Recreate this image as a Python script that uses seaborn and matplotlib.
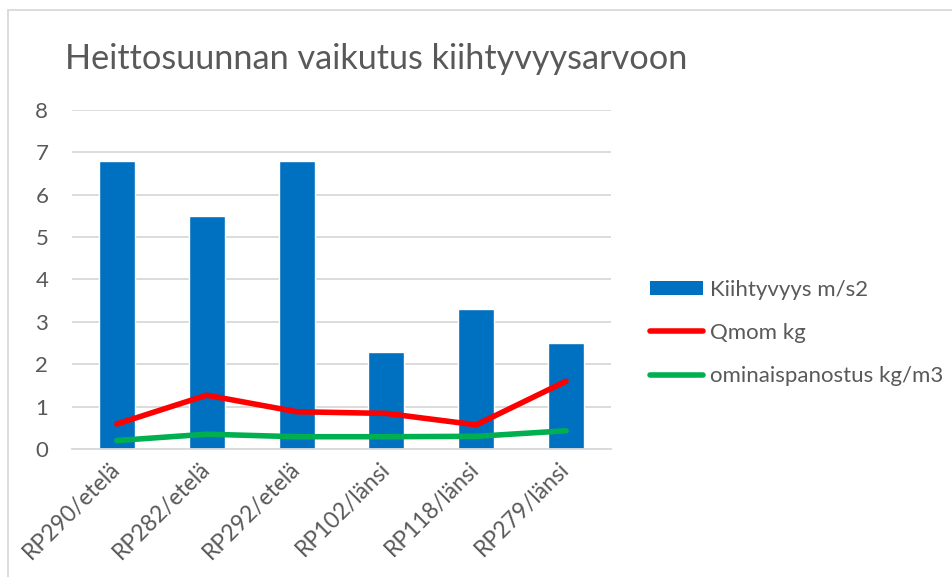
import numpy as np
import pandas as pd
import seaborn as sns
import matplotlib.pyplot as plt
from matplotlib.lines import Line2D
from matplotlib.patches import Patch

# data
paikat = ['RP290/etelä', 'RP282/etelä', 'RP292/etelä', 'RP102/länsi', 'RP118/länsi', 'RP279/länsi']
kiihtyvyys = [6.8, 5.5, 6.8, 2.3, 3.3, 2.5]
qmom = [0.59, 1.27, 0.88, 0.84, 0.57, 1.6]
ominaispanostus = [0.2, 0.35, 0.29, 0.29, 0.3, 0.43]
y_ticks = [0, 1, 2, 3, 4, 5, 6, 7, 8]

df = pd.DataFrame({'paikka': paikat, 'kiihtyvyys': kiihtyvyys,
                   'qmom': qmom, 'ominaispanostus': ominaispanostus})

sns.set_style('white')
plt.rcParams['font.family'] = ['Lato', 'DejaVu Sans']
txt = '#595959'
grid = '#d9d9d9'

fig = plt.figure(figsize=(9.53, 5.77), dpi=100)
ax = fig.add_axes([0.0755, 0.2218, 0.5656, 0.5876])

sns.barplot(data=df, x='paikka', y='kiihtyvyys', color='#0070c0', width=0.40,
            saturation=1, ax=ax, zorder=2)
sns.lineplot(x=np.arange(len(paikat)), y=df['qmom'], color='#ff0000', lw=4,
             solid_capstyle='round', ax=ax, zorder=3)
sns.lineplot(x=np.arange(len(paikat)), y=df['ominaispanostus'], color='#00b050', lw=4,
             solid_capstyle='round', ax=ax, zorder=3)

ax.set_xlim(-0.5, len(paikat) - 0.5)
ax.set_ylim(0, 8)
ax.set_yticks(y_ticks)
ax.set_yticklabels([str(v) for v in y_ticks], fontsize=16, color=txt)
ax.set_xticks(range(len(paikat)))
ax.set_xticklabels(paikat, rotation=45, ha='right', va='center',
                   rotation_mode='anchor', fontsize=16.5, color=txt)
ax.tick_params(axis='y', length=0, pad=17)
ax.tick_params(axis='x', length=0, pad=12)
ax.yaxis.grid(True, color=grid, lw=1.3, zorder=0)
ax.set_axisbelow(True)
for s in ['top', 'right', 'left']:
    ax.spines[s].set_visible(False)
ax.spines['bottom'].set_color(grid)
ax.spines['bottom'].set_linewidth(1.3)
ax.set_xlabel('')
ax.set_ylabel('')

fig.text(0.068, 0.897, 'Heittosuunnan vaikutus kiihtyvyysarvoon', fontsize=24.7,
         color=txt, va='center', ha='left')

handles = [Patch(facecolor='#0070c0', edgecolor='none'),
           Line2D([0], [0], color='#ff0000', lw=4, solid_capstyle='round'),
           Line2D([0], [0], color='#00b050', lw=4, solid_capstyle='round')]
labels = ['Kiihtyvyys m/s2', 'Qmom kg', 'ominaispanostus kg/m3']
leg = fig.legend(handles, labels, loc='center left', bbox_to_anchor=(0.682, 0.423),
                 frameon=False, fontsize=16, labelcolor=txt, handlelength=2.4,
                 handletextpad=0.3, labelspacing=1.05, handleheight=0.6,
                 borderpad=0, borderaxespad=0)

# outer chart border (only top and left visible in the crop)
fig.add_artist(Line2D([0.0085, 0.0085], [0, 0.983], transform=fig.transFigure, color=grid, lw=1.3))
fig.add_artist(Line2D([0.0085, 1], [0.983, 0.983], transform=fig.transFigure, color=grid, lw=1.3))

fig.savefig('out.png', dpi=100)
